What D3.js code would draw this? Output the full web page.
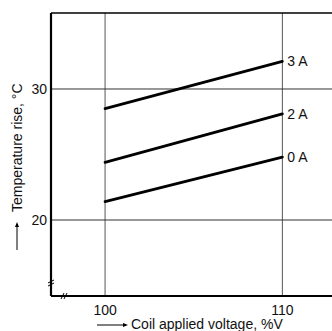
<!DOCTYPE html>
<html>
<head>
<meta charset="utf-8">
<script src="https://cdn.jsdelivr.net/npm/d3@7"></script>
<style>
  body { margin: 0; background: #fff; }
  text { font-family: "Liberation Sans", Arial, sans-serif; font-size: 14px; fill: #111; }
</style>
</head>
<body>
<script>
// data
var voltages = [100, 110];
var seriesNames = ["3 A", "2 A", "0 A"];
var rise3A = [28.5, 32.1];
var rise2A = [24.4, 28.1];
var rise0A = [21.4, 24.8];
var xTicks = [100, 110];
var yTicks = [20, 30];

var svgWidth = 332, svgHeight = 331;
var margin = { top: 13, right: 0, bottom: 35, left: 51 };
var width = svgWidth - margin.left - margin.right;
var height = svgHeight - margin.top - margin.bottom;

var svg = d3.select("body").append("svg")
  .attr("width", svgWidth)
  .attr("height", svgHeight);

var chartGroup = svg.append("g")
  .attr("transform", `translate(${margin.left}, ${margin.top})`);

var xScale = d3.scaleLinear().domain([96.95, 112.8]).range([0, width]);
var yScale = d3.scaleLinear().domain([14.2, 35.8]).range([height, 0]);

// grid lines
chartGroup.selectAll(".vgrid").data(xTicks).enter().append("line")
  .attr("x1", d => xScale(d)).attr("x2", d => xScale(d))
  .attr("y1", 0).attr("y2", height)
  .attr("stroke", "#555").attr("stroke-width", 1);

chartGroup.selectAll(".hgrid").data(yTicks).enter().append("line")
  .attr("x1", 0).attr("x2", width)
  .attr("y1", d => yScale(d)).attr("y2", d => yScale(d))
  .attr("stroke", "#333").attr("stroke-width", 1);

// frame: top border, left and bottom axes
chartGroup.append("line")
  .attr("x1", 0).attr("x2", width).attr("y1", 0).attr("y2", 0)
  .attr("stroke", "#000").attr("stroke-width", 1.5);
chartGroup.append("line")
  .attr("x1", 0).attr("x2", 0).attr("y1", 0).attr("y2", height)
  .attr("stroke", "#000").attr("stroke-width", 2.2);
chartGroup.append("line")
  .attr("x1", 0).attr("x2", width).attr("y1", height).attr("y2", height)
  .attr("stroke", "#000").attr("stroke-width", 2.2);

// axis break marks
var by = height - 14;
chartGroup.append("path")
  .attr("d", `M-3,${by + 1} L3,${by - 2} M-3,${by + 4} L3,${by + 1}`)
  .attr("stroke", "#000").attr("stroke-width", 1).attr("fill", "none");
var bx = 11;
chartGroup.append("path")
  .attr("d", `M${bx - 1},${height + 3} L${bx + 2},${height - 3} M${bx + 2},${height + 3} L${bx + 5},${height - 3}`)
  .attr("stroke", "#000").attr("stroke-width", 1).attr("fill", "none");

// tick labels
chartGroup.selectAll(".xlab").data(xTicks).enter().append("text")
  .attr("x", d => xScale(d))
  .attr("y", height + 19)
  .attr("text-anchor", "middle")
  .text(d => d);

chartGroup.selectAll(".ylab").data(yTicks).enter().append("text")
  .attr("x", -4)
  .attr("y", d => yScale(d) + 5)
  .attr("text-anchor", "end")
  .text(d => d);

// series lines
var series = [rise3A, rise2A, rise0A];
var line = d3.line()
  .x((d, i) => xScale(voltages[i]))
  .y(d => yScale(d));

chartGroup.selectAll(".series").data(series).enter().append("path")
  .attr("d", d => line(d))
  .attr("fill", "none")
  .attr("stroke", "#000")
  .attr("stroke-width", 2.8)
  .attr("stroke-linecap", "round");

chartGroup.selectAll(".slab").data(series).enter().append("text")
  .attr("x", xScale(110) + 5)
  .attr("y", d => yScale(d[1]) + 5)
  .text((d, i) => seriesNames[i]);

// axis titles with leading arrows
svg.append("line")
  .attr("x1", 97).attr("x2", 126).attr("y1", 325).attr("y2", 325)
  .attr("stroke", "#000").attr("stroke-width", 1);
svg.append("path")
  .attr("d", "M128,325 L123,323 L123,327 Z")
  .attr("fill", "#000");
svg.append("text")
  .attr("x", 131).attr("y", 329)
  .text("Coil applied voltage, %V");

svg.append("line")
  .attr("x1", 17).attr("x2", 17).attr("y1", 250).attr("y2", 224)
  .attr("stroke", "#000").attr("stroke-width", 1);
svg.append("path")
  .attr("d", "M17,222 L15,227 L19,227 Z")
  .attr("fill", "#000");
svg.append("text")
  .attr("transform", "translate(22, 212) rotate(-90)")
  .text("Temperature rise, \u00B0C");
</script>
</body>
</html>
